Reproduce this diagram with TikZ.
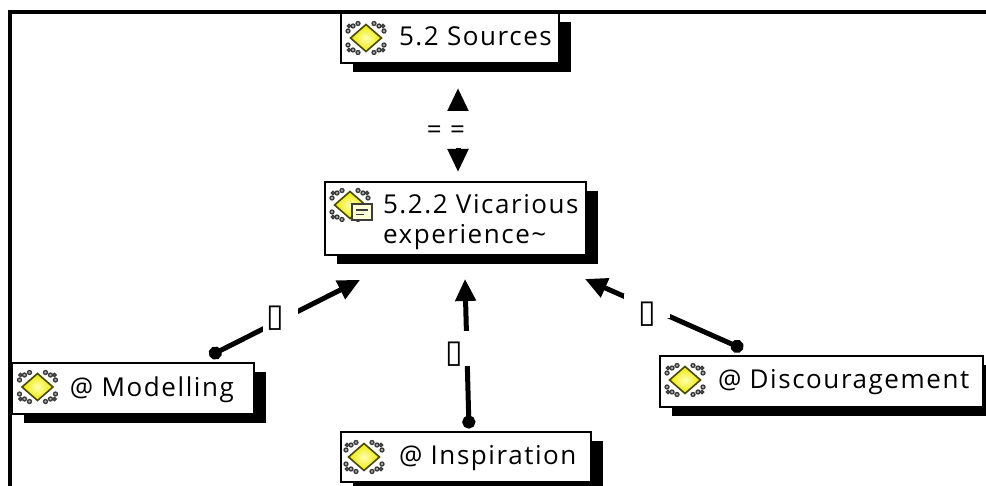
\documentclass[tikz,border=0pt]{standalone}
\usepackage{fontspec}
\setmainfont[LetterSpace=6]{Open Sans}
\newfontfamily\tofufont{DejaVu Sans}
\usetikzlibrary{arrows.meta,shadows}
\definecolor{gemedge}{HTML}{4A4A08}
\definecolor{gemtop}{HTML}{FFFFB0}
\definecolor{gembot}{HTML}{EDE800}
\definecolor{ringgrey}{HTML}{3C3C3C}
\definecolor{ringfill}{HTML}{A8A8A8}
\newcommand{\cardtext}[4]{\makebox[#1pt][l]{\hspace*{#2pt}\raisebox{#4pt}[0pt][0pt]{\begin{tabular}[t]{@{}l@{}}#3\end{tabular}}}}
\newcommand{\tofumark}[2]{\makebox[0pt]{\hspace*{#1pt}\raisebox{#2pt}[0pt][0pt]{\tofufont\fontsize{32}{32}\selectfont\char"25AF}}}
\tikzset{
  card/.style={draw=black,line width=2pt,fill=white,inner sep=0pt,minimum height=#1,
    font=\fontsize{26}{30}\selectfont,
    general shadow={fill=black,shadow xshift=12pt,shadow yshift=-9pt}},
  link/.style={draw=black,line width=5pt},
  gaplabel/.style={fill=white,inner sep=0pt,text=black},
  dothead/.style={{Circle[length=13pt,width=13pt]}-{Triangle[length=22pt,width=20pt]}},
  bothhead/.style={{Triangle[length=23pt,width=20pt]}-{Triangle[length=23pt,width=20pt]}},
  ring/.style={draw=ringgrey,line width=1.3pt,fill=ringfill},
  gem/.pic={
    \foreach \sx in {-1,1}\foreach \sy in {-1,1}{
      \draw[ring] (\sx*8,\sy*14.5) circle (2);
      \draw[ring] (\sx*13,\sy*12) circle (2);
      \draw[ring] (\sx*18,\sy*7) circle (2);
      \draw[ring] (\sx*17,\sy*12) circle (1.6);
    }
    \path[draw=gemedge,line width=1.6pt,inner color=gemtop,outer color=gembot]
      (-15.5,0) -- (0,-13.5) -- (15.5,0) -- (0,13.5) -- cycle;
  },
  memo/.pic={
    \path[draw=ringgrey,line width=1.8pt,fill=gemtop!50] (-10,-8) rectangle (10,8);
    \draw[ringgrey,line width=1.8pt] (-6,-2) -- (6,-2) (-6,2.5) -- (2,2.5);
  }
}
\begin{document}
\begin{tikzpicture}[x=1pt,y=-1pt]
\useasboundingbox (0,0) rectangle (986,486);
\fill[white] (0,0) rectangle (986,486);
\coordinate (frameA) at (10,486);
\coordinate (frameB) at (10,12);
\coordinate (frameC) at (986,12);
\draw[line width=4pt,line join=miter] (frameA) -- (frameB) -- (frameC);

\node[card=50pt,minimum width=218pt] (sources) at (450,38.5) {\cardtext{218}{58}{5.2 Sources}{-7.5}};
\node[card=73pt,minimum width=261pt] (vicarious) at (455.5,218.5) {\cardtext{261}{58}{5.2.2 Vicarious\\experience\textasciitilde}{4.5}};
\node[card=51pt,minimum width=242pt] (modelling) at (133,388.5) {\cardtext{242}{58}{@ Modelling}{-8}};
\node[card=50pt,minimum width=250pt] (inspiration) at (466,457) {\cardtext{250}{58}{@ Inspiration}{-7}};
\node[card=51pt,minimum width=323pt] (discouragement) at (821.5,381.5) {\cardtext{323}{58}{@ Discouragement}{-7.5}};

\pic at (366,38) {gem};
\pic at (350,205) {gem};
\pic at (362,212) {memo};
\pic at (37.5,387) {gem};
\pic at (364,457) {gem};
\pic at (685,380) {gem};

\draw[link,bothhead] ([xshift=8pt,yshift=-23.5pt]sources.south) --
  node[gaplabel,pos=.5,xshift=-12pt,minimum width=40pt,minimum height=37pt,font=\fontsize{26}{26}\selectfont] (lsv) {\raisebox{-9pt}[0pt][0pt]{= =}}
  ([xshift=2.5pt,yshift=9pt]vicarious.north);
\draw[link,dothead] ([xshift=76.5pt,yshift=6pt]modelling.north) --
  node[gaplabel,pos=.472,minimum width=35pt,minimum height=24pt] (lmv) {\tofumark{-9.5}{-6}}
  ([xshift=-95.5pt,yshift=-24pt]vicarious.south);
\draw[link,dothead] ([xshift=3pt,yshift=2.5pt]inspiration.north) --
  node[gaplabel,pos=.535,minimum width=12pt,minimum height=35pt] (liv) {\tofumark{-25}{-13.5}}
  ([xshift=9.5pt,yshift=-23pt]vicarious.south);
\draw[link,dothead] ([xshift=-78.5pt,yshift=6pt]discouragement.north) --
  node[gaplabel,pos=.608,minimum width=46pt,minimum height=24pt] (ldv) {\tofumark{0}{-16}}
  ([xshift=129.5pt,yshift=-23pt]vicarious.south);
\end{tikzpicture}
\end{document}
